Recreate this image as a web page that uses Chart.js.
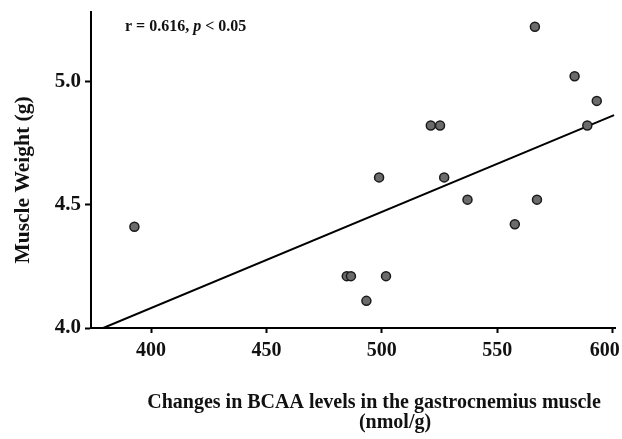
<!DOCTYPE html>
<html>
<head>
<meta charset="utf-8">
<script src="https://cdn.jsdelivr.net/npm/chart.js@4"></script>
<style>
  html, body { margin: 0; padding: 0; background: #fff; }
  #wrap { width: 622px; height: 439px; }
</style>
</head>
<body>
<div id="wrap"><canvas id="bcaa-chart" width="622" height="439"></canvas></div>
<script>
// BCAA change (nmol/g) vs muscle weight (g)
var bcaaX = [392.8, 484.8, 486.6, 493.3, 498.8, 501.8, 521.2, 525.2, 527.0, 537.1, 557.6, 566.3, 567.2, 583.5, 589.0, 593.1];
var weightY = [4.41, 4.21, 4.21, 4.11, 4.61, 4.21, 4.82, 4.82, 4.61, 4.52, 4.42, 5.22, 4.52, 5.02, 4.82, 4.92];
// regression line end points
var fitX = [379.3, 600.6];
var fitY = [4.0, 4.862];
var xTicks = [400, 450, 500, 550, 600];
var yTicks = [4.0, 4.5, 5.0];

var serif = '"Liberation Serif", "Times New Roman", serif';

var points = bcaaX.map(function(v, i){ return {x: v, y: weightY[i]}; });
var fitLine = fitX.map(function(v, i){ return {x: v, y: fitY[i]}; });

var textPlugin = {
  id: 'texts',
  beforeDraw: function(chart){
    // keep the last x label ("600") inside the canvas
    var items = chart.scales.x.getLabelItems(chart.chartArea);
    if (items.length) items[items.length - 1].options.translation[0] -= 8;
  },
  afterDraw: function(chart){
    var ctx = chart.ctx;
    ctx.save();
    ctx.fillStyle = '#111';
    // r / p annotation
    ctx.textBaseline = 'alphabetic';
    ctx.textAlign = 'left';
    var x = 125, y = 31;
    ctx.font = 'bold 16px ' + serif;
    var a = 'r = 0.616, ';
    ctx.fillText(a, x, y);
    x += ctx.measureText(a).width;
    ctx.font = 'italic bold 16px ' + serif;
    ctx.fillText('p', x, y);
    x += ctx.measureText('p').width;
    ctx.font = 'bold 16px ' + serif;
    ctx.fillText(' < 0.05', x, y);

    // x axis title
    ctx.font = 'bold 20px ' + serif;
    ctx.textAlign = 'center';
    ctx.fillText('Changes in BCAA levels in the gastrocnemius muscle', 374, 408);
    ctx.fillText('(nmol/g)', 395, 428);

    // y axis title
    ctx.font = 'bold 21.5px ' + serif;
    ctx.translate(23, 180);
    ctx.rotate(-Math.PI / 2);
    ctx.textBaseline = 'middle';
    ctx.fillText('Muscle Weight (g)', 0, 0);
    ctx.restore();
  }
};

var scatterConfig = {
  type: 'scatter',
  data: {
    datasets: [{
      label: 'Fit',
      type: 'line',
      data: fitLine,
      borderColor: '#000',
      borderWidth: 2,
      pointRadius: 0,
      fill: false,
      order: 2
    }, {
      label: 'Mice',
      data: points,
      backgroundColor: '#6b6b6b',
      borderColor: '#1a1a1a',
      borderWidth: 1.5,
      pointRadius: 4.5,
      order: 1
    }]
  },
  options: {
    responsive: false,
    animation: false,
    layout: { padding: { top: 12, right: 7, left: 0, bottom: 0 } },
    plugins: {
      legend: { display: false },
      tooltip: { enabled: false }
    },
    scales: {
      x: {
        type: 'linear',
        min: 374,
        max: 601,
        afterBuildTicks: function(scale){
          scale.ticks = xTicks.map(function(v){ return {value: v}; });
        },
        afterFit: function(scale){
          scale.height = 111;
          scale.paddingLeft = 0;
          scale.paddingRight = 0;
        },
        border: { color: '#000', width: 2 },
        grid: { drawOnChartArea: false, color: '#000', tickLength: 5, tickWidth: 2 },
        ticks: {
          color: '#111',
          padding: 6,
          maxRotation: 0,
          font: { family: serif, size: 20, weight: 'bold' }
        }
      },
      y: {
        min: 4.0,
        max: 5.28,
        afterBuildTicks: function(scale){
          scale.ticks = yTicks.map(function(v){ return {value: v}; });
        },
        afterFit: function(scale){
          scale.width = 91;
          scale.paddingTop = 0;
          scale.paddingBottom = 0;
        },
        border: { color: '#000', width: 2 },
        grid: { drawOnChartArea: false, color: '#000', tickLength: 6, tickWidth: 2 },
        ticks: {
          color: '#111',
          padding: 4,
          callback: function(v){ return Number(v).toFixed(1); },
          font: { family: serif, size: 21, weight: 'bold' }
        }
      }
    }
  },
  plugins: [textPlugin]
};

window.onload = function() {
  var ctx = document.getElementById('bcaa-chart').getContext('2d');
  window.bcaaChart = new Chart(ctx, scatterConfig);
};
</script>
</body>
</html>
